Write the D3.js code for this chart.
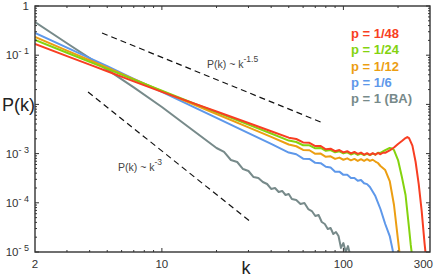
<!DOCTYPE html>
<html>
<head>
<meta charset="utf-8">
<script src="https://cdn.jsdelivr.net/npm/d3@7"></script>
<style>
  body { margin: 0; background: #fff; }
  svg { display: block; font-family: "Liberation Sans", Arial, sans-serif; }
</style>
</head>
<body>
<svg id="chart" width="437" height="278"></svg>
<script>
// degree distributions P(k)
const redK = [2,3,4,5,7,10,15,20,30,40,50,55,60,65,70,75,80,85,90,95,100,105,110,115,120,125,130,135,140,145,150,155,160,165,170,180,190,200,210,220,225,230,240,250,260,270,280,285];
const redP = [0.169,0.0959,0.0644,0.0473,0.0293,0.0180,0.0105,0.00718,0.00419,0.00285,0.00211,0.00198,0.00169,0.00166,0.00142,0.00143,0.00122,0.00126,0.00112,0.00118,0.00106,0.00112,0.00101,0.00108,0.00099,0.00105,0.00095,0.00102,0.00094,0.00102,0.00095,0.00103,0.00097,0.00104,0.00104,0.00116,0.00133,0.00157,0.00180,0.00207,0.00217,0.00207,0.00145,0.000675,0.000240,0.0000680,0.0000150,0.000008];

const greenK = [2,3,4,5,7,10,15,20,30,40,50,55,60,65,70,75,80,85,90,95,100,105,110,115,120,125,130,135,140,145,150,155,160,170,180,185,190,200,210,220,230,235,240];
const greenP = [0.204,0.112,0.0734,0.0529,0.0319,0.0190,0.0105,0.00697,0.00387,0.00256,0.00184,0.00172,0.00148,0.00147,0.00128,0.00130,0.00114,0.00118,0.00106,0.00111,0.00101,0.00106,0.00096,0.00102,0.00094,0.00100,0.00093,0.00099,0.00093,0.00100,0.00095,0.00104,0.00103,0.00118,0.00130,0.00127,0.00118,0.000741,0.000334,0.000144,0.0000307,0.0000139,0.0000075];

const orangeK = [2,3,4,5,7,10,15,20,30,40,50,55,60,65,70,75,80,85,90,95,100,105,110,115,120,125,130,135,140,145,150,155,160,170,180,190,200,203,206];
const orangeP = [0.234,0.124,0.0791,0.0560,0.0325,0.0186,0.00995,0.00638,0.00341,0.00218,0.00153,0.00141,0.00119,0.00117,0.00099,0.00100,0.00086,0.00088,0.00078,0.00083,0.00075,0.00080,0.00073,0.00078,0.00071,0.00077,0.00071,0.00077,0.00071,0.00075,0.00069,0.000644,0.000560,0.000464,0.000277,0.0000902,0.0000175,0.0000108,0.000007];

const blueK = [2,3,4,5,7,10,15,20,30,40,50,55,60,65,70,75,80,85,90,95,100,105,110,115,120,125,130,135,140,150,160,170,180,187,190];
const blueP = [0.283,0.142,0.0873,0.0598,0.0331,0.0181,0.00881,0.00534,0.00260,0.00157,0.00105,0.00097,0.00079,0.00078,0.00065,0.00064,0.00054,0.00052,0.00043,0.00043,0.00037,0.00037,0.00032,0.00032,0.00028,0.00029,0.00025,0.00024,0.000209,0.000137,0.0000748,0.0000371,0.0000211,0.0000108,0.000007];

const grayK = [2,3,4,5,7,10,15,20,22,24,26,28,30,32,34,36,38,40,42,44,46,48,50,52,55,58,61,64,67,70,73,76,79,82,85,88,91,94,97,100,103,106,109];
const grayP = [0.473,0.175,0.0873,0.0510,0.0222,0.00885,0.00288,0.00130,0.00108,0.000741,0.000675,0.000486,0.000443,0.000334,0.000319,0.000265,0.000241,0.000191,0.000200,0.000166,0.000174,0.000144,0.000151,0.000119,0.000114,0.0000946,0.0000991,0.0000748,0.0000681,0.0000539,0.0000565,0.0000407,0.0000371,0.0000293,0.0000307,0.0000232,0.0000255,0.0000211,0.0000121,0.0000152,0.0000100,0.0000132,0.0000087];

const seriesNames = ["p = 1/48", "p = 1/24", "p = 1/12", "p = 1/6", "p = 1 (BA)"];
const seriesColors = ["#f83e22", "#84d30e", "#ec9e12", "#5e98ea", "#778a8a"];

// reference slopes k^-1.5 and k^-3
const guideA = {k: [4.68, 77.3], p: [0.283, 0.00419], label: "-1.5"};
const guideB = {k: [3.92, 31.4], p: [0.0179, 0.0000388], label: "-3"};

const xTicks = [2, 10, 100, 300];
const yTicks = [1, 1e-1, 1e-2, 1e-3, 1e-4, 1e-5];
const yLabelled = [1, 1e-1, 1e-3, 1e-4, 1e-5]; // 1e-2 sits under the P(k) title

const svg = d3.select("#chart");
const plotL = 35, plotR = 430, plotT = 6, plotB = 252;

const x = d3.scaleLog().domain([2, 300]).range([plotL, plotR]);
const y = d3.scaleLog().domain([1e-5, 1]).range([plotB, plotT]);

svg.append("defs").append("clipPath").attr("id", "plot")
  .append("rect").attr("x", plotL).attr("y", plotT)
  .attr("width", plotR - plotL).attr("height", plotB - plotT);

const line = d3.line().x(d => x(d[0])).y(d => y(d[1]));

// guides
[guideA, guideB].forEach(g => {
  svg.append("path")
    .attr("d", line(d3.zip(g.k, g.p)))
    .attr("fill", "none")
    .attr("stroke", "#111")
    .attr("stroke-width", 1.2)
    .attr("stroke-dasharray", "6,4");
});

function guideLabel(px, py, sup) {
  const t = svg.append("text").attr("x", px).attr("y", py)
    .attr("font-size", 10.5).attr("fill", "#444");
  t.append("tspan").text("P(k) ~ k");
  t.append("tspan").attr("dy", -6).attr("font-size", 8.5).text(sup);
}
guideLabel(207, 68, guideA.label);
guideLabel(118, 171, guideB.label);

// curves (gray below, red on top)
const series = [
  [redK, redP], [greenK, greenP], [orangeK, orangeP], [blueK, blueP], [grayK, grayP]
];
const curves = svg.append("g").attr("clip-path", "url(#plot)");
for (let i = series.length - 1; i >= 0; i--) {
  curves.append("path")
    .attr("d", line(d3.zip(series[i][0], series[i][1])))
    .attr("fill", "none")
    .attr("stroke", seriesColors[i])
    .attr("stroke-width", 2)
    .attr("stroke-linejoin", "round");
}

// frame + ticks
const axisColor = "#333";
svg.append("rect").attr("x", plotL).attr("y", plotT)
  .attr("width", plotR - plotL).attr("height", plotB - plotT)
  .attr("fill", "none").attr("stroke", axisColor).attr("stroke-width", 1.4);

const minorX = [];
[1, 10, 100].forEach(dec => {
  for (let m = 2; m <= 9; m++) {
    const v = m * dec;
    if (v > 2 && v < 300 && v !== 10 && v !== 100) minorX.push(v);
  }
});
const tickG = svg.append("g").attr("stroke", axisColor).attr("stroke-width", 1);
minorX.forEach(v => {
  tickG.append("line").attr("x1", x(v)).attr("x2", x(v)).attr("y1", plotB).attr("y2", plotB - 2);
  tickG.append("line").attr("x1", x(v)).attr("x2", x(v)).attr("y1", plotT).attr("y2", plotT + 2);
});
[10, 100].forEach(v => {
  tickG.append("line").attr("x1", x(v)).attr("x2", x(v)).attr("y1", plotB).attr("y2", plotB - 4);
  tickG.append("line").attr("x1", x(v)).attr("x2", x(v)).attr("y1", plotT).attr("y2", plotT + 4);
});
const minorY = [];
[1e-5, 1e-4, 1e-3, 1e-2, 1e-1].forEach(dec => {
  for (let m = 2; m <= 9; m++) minorY.push(m * dec);
});
minorY.forEach(v => {
  tickG.append("line").attr("x1", plotL).attr("x2", plotL + 2).attr("y1", y(v)).attr("y2", y(v));
  tickG.append("line").attr("x1", plotR).attr("x2", plotR - 2).attr("y1", y(v)).attr("y2", y(v));
});
yTicks.forEach(v => {
  tickG.append("line").attr("x1", plotL).attr("x2", plotL + 4).attr("y1", y(v)).attr("y2", y(v));
  tickG.append("line").attr("x1", plotR).attr("x2", plotR - 4).attr("y1", y(v)).attr("y2", y(v));
});

// tick labels
xTicks.forEach(v => {
  svg.append("text")
    .attr("x", v === 300 ? 433 : x(v))
    .attr("y", 268)
    .attr("text-anchor", v === 300 ? "end" : "middle")
    .attr("font-size", 11.5).attr("fill", "#333")
    .text(v);
});
yLabelled.forEach(v => {
  const e = Math.round(Math.log10(v));
  const t = svg.append("text").attr("x", 29).attr("y", y(v) + 4)
    .attr("text-anchor", "end").attr("font-size", 11.5).attr("fill", "#333");
  if (e === 0) { t.text("1"); return; }
  t.append("tspan").text("10");
  t.append("tspan").attr("dy", -5).attr("font-size", 9).text("- " + (-e));
});

// axis titles
svg.append("text").attr("x", 2).attr("y", 111)
  .attr("font-size", 18).attr("fill", "#222").text("P(k)");
svg.append("text").attr("x", 246).attr("y", 274).attr("text-anchor", "middle")
  .attr("font-size", 18).attr("fill", "#222").text("k");

// legend
seriesNames.forEach((name, i) => {
  svg.append("text")
    .attr("x", 351).attr("y", 38 + i * 16.3)
    .attr("font-size", 13).attr("font-weight", "bold")
    .attr("fill", seriesColors[i])
    .text(name);
});
</script>
</body>
</html>
